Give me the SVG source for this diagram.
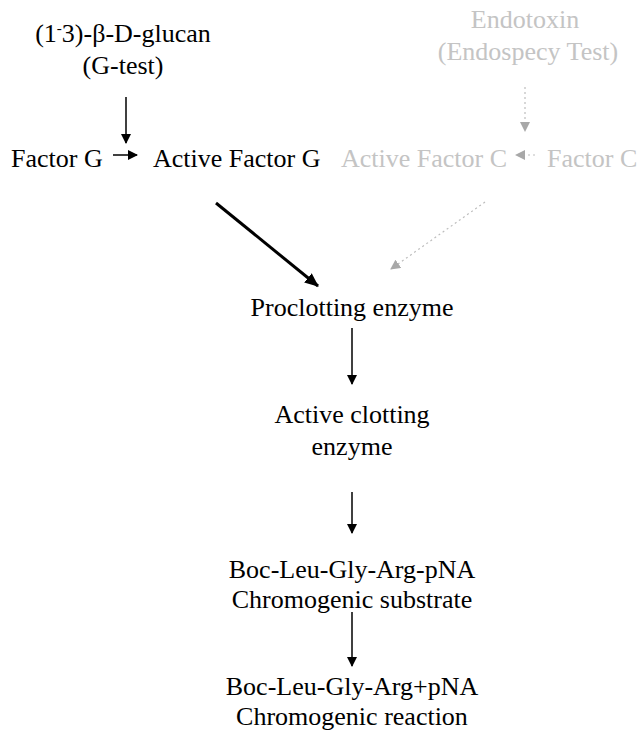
<svg xmlns="http://www.w3.org/2000/svg" width="641" height="730" viewBox="0 0 641 730">
<style>
text{font-family:"Liberation Serif","Times New Roman",serif;font-size:26px;fill:#000}
.g text{fill:#c4c4c4}
.c{text-anchor:middle}
.ln{stroke:#000;stroke-width:1.5;fill:none}
.gl{stroke:#bdbdbd;stroke-width:1.2;fill:none;stroke-dasharray:2 3}
</style>
<defs>
<marker id="ah" markerWidth="10" markerHeight="10" refX="9" refY="5" orient="auto" markerUnits="userSpaceOnUse"><path d="M0,0 L10,5 L0,10 z" fill="#000"/></marker>
<marker id="ahb" markerWidth="14" markerHeight="12" refX="13" refY="6" orient="auto" markerUnits="userSpaceOnUse"><path d="M0,0 L14,6 L0,12 z" fill="#000"/></marker>
<marker id="ahg" markerWidth="10" markerHeight="10" refX="9" refY="5" orient="auto" markerUnits="userSpaceOnUse"><path d="M0,0 L10,5 L0,10 z" fill="#a8a8a8"/></marker>
</defs>
<rect width="641" height="730" fill="#fff"/>
<g id="connectors">
<line class="ln" x1="126" y1="97" x2="126" y2="143" marker-end="url(#ah)"/>
<line class="ln" x1="113" y1="155" x2="137" y2="155" marker-end="url(#ah)"/>
<line x1="216" y1="203" x2="318" y2="286" stroke="#000" stroke-width="3" marker-end="url(#ahb)"/>
<line class="gl" x1="525" y1="87" x2="525" y2="131" marker-end="url(#ahg)"/>
<line class="gl" x1="535" y1="155" x2="516" y2="155" marker-end="url(#ahg)"/>
<line class="gl" x1="485" y1="202" x2="391" y2="269" marker-end="url(#ahg)"/>
<line class="ln" x1="352" y1="328" x2="352" y2="384" marker-end="url(#ah)"/>
<line class="ln" x1="352" y1="492" x2="352" y2="533" marker-end="url(#ah)"/>
<line class="ln" x1="352" y1="612" x2="352" y2="666" marker-end="url(#ah)"/>
</g>
<g id="glucan"><text class="c" x="123" y="42">(1<tspan font-size="15" dy="-9">-</tspan><tspan dy="9">3)-β-D-glucan</tspan></text><text class="c" x="123" y="74">(G-test)</text></g>
<g id="factorG"><text x="11" y="167">Factor G</text></g>
<g id="activeFactorG"><text x="153" y="167">Active Factor G</text></g>
<g id="endotoxin" class="g"><text class="c" x="525" y="28">Endotoxin</text><text class="c" x="528" y="60">(Endospecy Test)</text></g>
<g id="activeFactorC" class="g"><text x="341" y="167">Active Factor C</text></g>
<g id="factorC" class="g"><text x="547" y="167">Factor C</text></g>
<g id="proclotting"><text class="c" x="352" y="316">Proclotting enzyme</text></g>
<g id="activeClotting"><text class="c" x="352" y="423">Active clotting</text><text class="c" x="352" y="455">enzyme</text></g>
<g id="substrate"><text class="c" x="352" y="578">Boc-Leu-Gly-Arg-pNA</text><text class="c" x="352" y="608">Chromogenic substrate</text></g>
<g id="reaction"><text class="c" x="352" y="695">Boc-Leu-Gly-Arg+pNA</text><text class="c" x="352" y="725">Chromogenic reaction</text></g>
</svg>
